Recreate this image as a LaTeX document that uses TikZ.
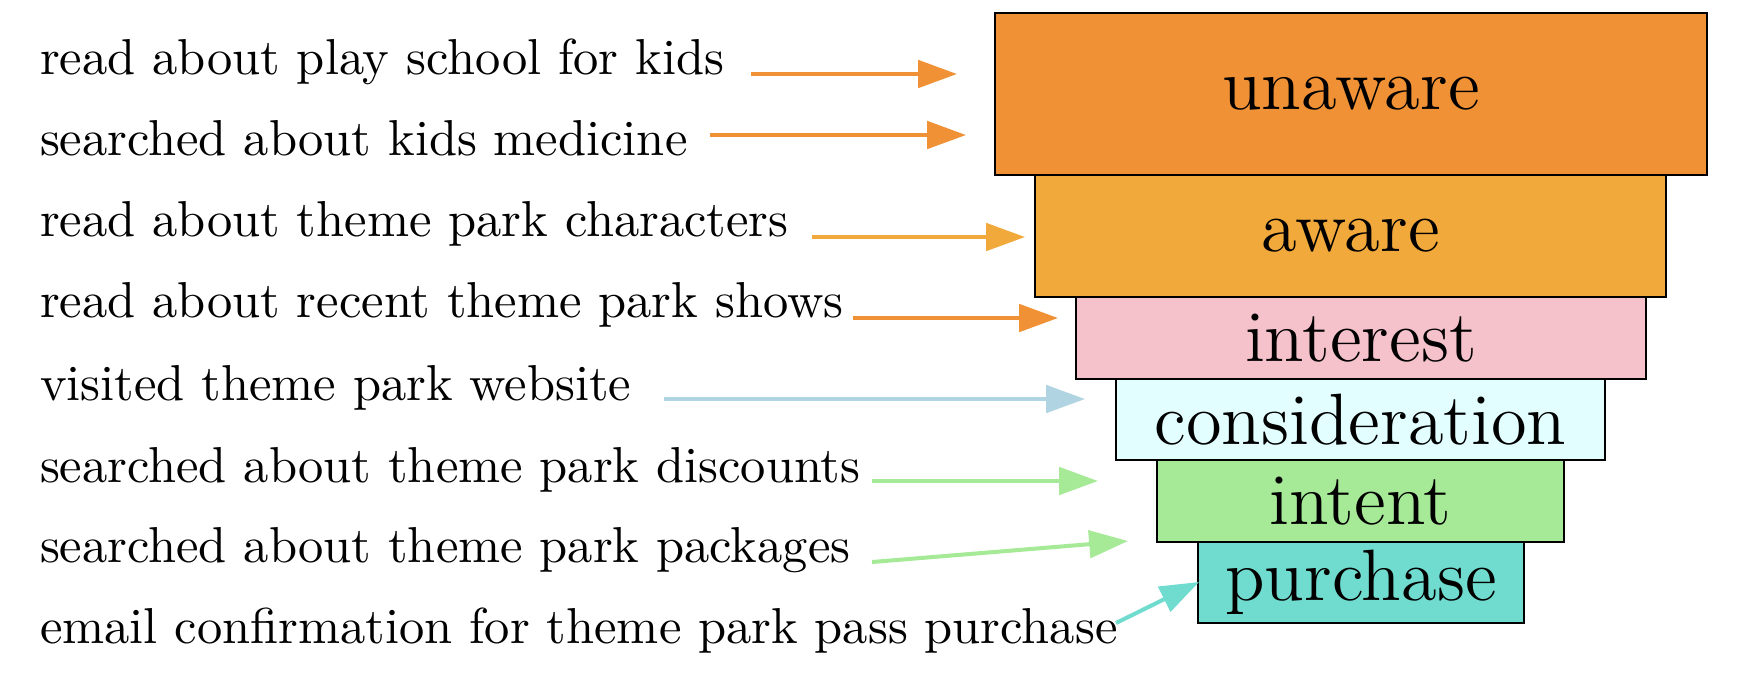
\documentclass[tikz,border=0pt]{standalone}
\usetikzlibrary{arrows.meta}
\definecolor{cUnaware}{HTML}{F09136}
\definecolor{cAware}{HTML}{F2A93B}
\definecolor{cInterest}{HTML}{F5C2CB}
\definecolor{cConsid}{HTML}{E2FEFF}
\definecolor{cIntent}{HTML}{A6EA98}
\definecolor{cPurchase}{HTML}{70DCCF}
\definecolor{cBlue}{HTML}{B0D4E1}
\definecolor{cGreen}{HTML}{A6EA98}
\tikzset{
  stage/.style={draw=black, line width=0.4pt, rectangle, inner sep=0pt,
    font=\fontsize{14.4}{17}\selectfont},
  lbl/.style={anchor=base west, inner sep=0pt, font=\fontsize{10}{12}\selectfont},
  conn/.style={line width=0.8pt, -{Triangle[length=7.7pt,width=5.4pt]}}
}
\begin{document}
\begin{tikzpicture}[x=0.198pt, y=-0.198pt]
\useasboundingbox (0,0) rectangle (1738,672);
% funnel stages
\node[stage, fill=cUnaware, minimum width=140.98pt, minimum height=32.08pt] (unaware) at (1351,94) {unaware};
\node[stage, fill=cAware, minimum width=124.94pt, minimum height=24.16pt] (aware) at (1350.5,236) {aware};
\node[stage, fill=cInterest, minimum width=112.86pt, minimum height=16.24pt] (interest) at (1361,338) {interest};
\node[stage, fill=cConsid, minimum width=96.82pt, minimum height=16.04pt] (consideration) at (1360.5,419.5) {consideration};
\node[stage, fill=cIntent, minimum width=80.59pt, minimum height=16.24pt] (intent) at (1360.5,501) {intent};
\node[stage, fill=cPurchase, minimum width=64.55pt, minimum height=16.04pt] (purchase) at (1361,582.5) {purchase};
% labels
\node[lbl] (t1) at (39,74) {read about play school for kids};
\node[lbl] (t2) at (39,155) {searched about kids medicine};
\node[lbl] (t3) at (39,236) {read about theme park characters};
\node[lbl] (t4) at (39,317) {read about recent theme park shows};
\node[lbl] (t5) at (39,400) {visited theme park website};
\node[lbl] (t6) at (39,482) {searched about theme park discounts};
\node[lbl] (t7) at (39,562) {searched about theme park packages};
\node[lbl] (t8) at (39,643) {email confirmation for theme park pass purchase};
% connector ends
\coordinate (s1) at (751,74);  \coordinate (e1) at (957,74);
\coordinate (s2) at (710,135); \coordinate (e2) at (966,135);
\coordinate (s3) at (812,237); \coordinate (e3) at (1025,237);
\coordinate (s4) at (853,318); \coordinate (e4) at (1058,318);
\coordinate (s5) at (664,399); \coordinate (e5) at (1085,399);
\coordinate (s6) at (872,481); \coordinate (e6) at (1098,481);
\coordinate (s7) at (872,562); \coordinate (e7) at (1128,541);
\coordinate (s8) at (1116,623); \coordinate (e8) at (1199,582);
\draw[conn, cUnaware] (s1) -- (e1);
\draw[conn, cUnaware] (s2) -- (e2);
\draw[conn, cAware] (s3) -- (e3);
\draw[conn, cUnaware] (s4) -- (e4);
\draw[conn, cBlue] (s5) -- (e5);
\draw[conn, cGreen] (s6) -- (e6);
\draw[conn, cGreen] (s7) -- (e7);
\draw[conn, cPurchase] (s8) -- (e8);
\end{tikzpicture}
\end{document}
